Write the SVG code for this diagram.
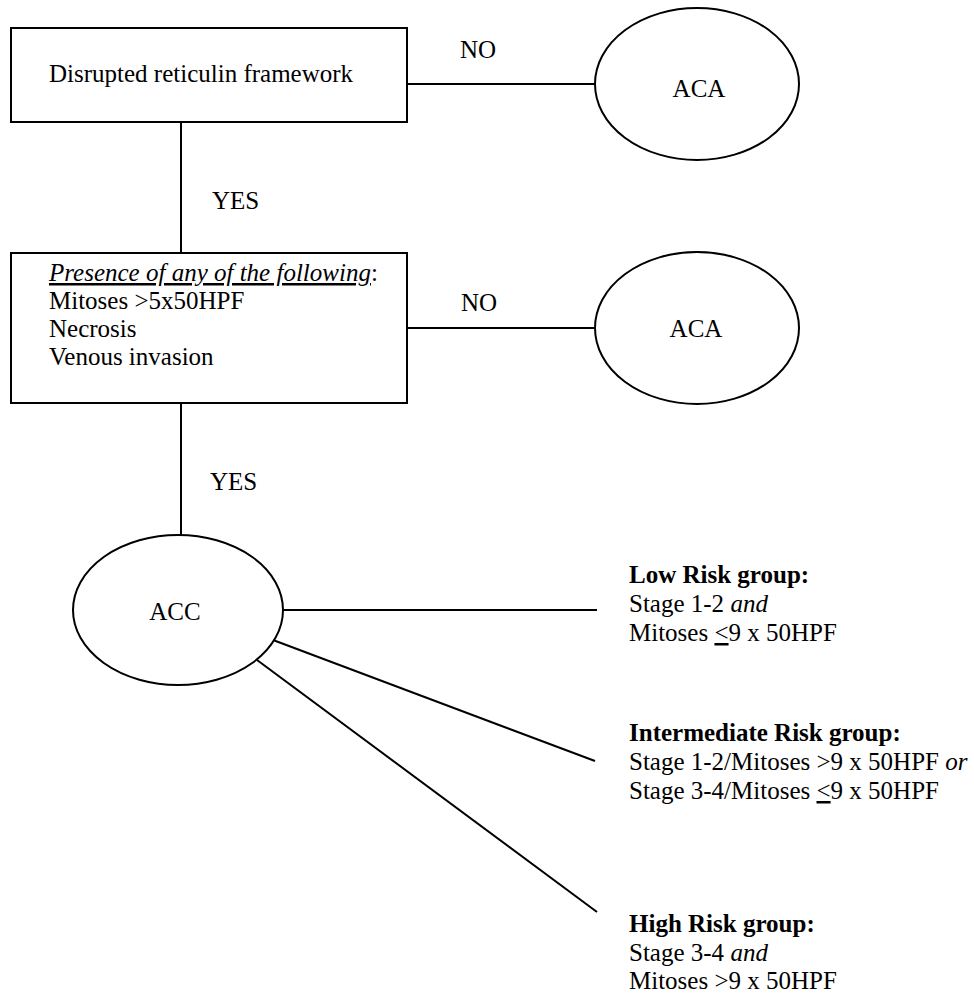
<svg xmlns="http://www.w3.org/2000/svg" width="974" height="996" viewBox="0 0 974 996">
<style>
.s{fill:none;stroke:#000;stroke-width:2}
.n{fill:#fff;stroke:#000;stroke-width:2}
text{font-family:"Liberation Serif","Times New Roman",serif;font-size:25px;fill:#000}
.c{text-anchor:middle}
.b{font-weight:bold}
.i{font-style:italic}
.u{text-decoration:underline}
</style>
<rect width="974" height="996" fill="#fff"/>
<g id="connectors">
<line class="s" x1="407" y1="84" x2="595" y2="84"/>
<line class="s" x1="181" y1="122" x2="181" y2="253"/>
<line class="s" x1="407" y1="328" x2="595" y2="328"/>
<line class="s" x1="181" y1="403" x2="181" y2="535"/>
<line class="s" x1="283" y1="610" x2="597" y2="610"/>
<line class="s" x1="273" y1="640" x2="595" y2="761"/>
<line class="s" x1="257" y1="660" x2="597" y2="912"/>
<text x="460" y="58">NO</text>
<text x="212" y="209">YES</text>
<text x="461" y="311">NO</text>
<text x="210" y="490">YES</text>
</g>
<g id="box1">
<rect class="n" x="11" y="28" width="396" height="94"/>
<text x="49" y="82">Disrupted reticulin framework</text>
</g>
<g id="box2">
<rect class="n" x="11" y="253" width="396" height="150"/>
<text x="49" y="281"><tspan class="i u">Presence of any of the following</tspan>:</text>
<text x="49" y="309">Mitoses &gt;5x50HPF</text>
<text x="49" y="337">Necrosis</text>
<text x="49" y="365">Venous invasion</text>
</g>
<g id="aca1">
<ellipse class="n" cx="697" cy="84" rx="102" ry="76"/>
<text class="c" x="699" y="97">ACA</text>
</g>
<g id="aca2">
<ellipse class="n" cx="697" cy="328" rx="102" ry="76"/>
<text class="c" x="696" y="337">ACA</text>
</g>
<g id="acc">
<ellipse class="n" cx="178" cy="610" rx="105" ry="75"/>
<text class="c" x="175" y="620">ACC</text>
</g>
<g id="low">
<text x="629" y="583" class="b">Low Risk group:</text>
<text x="629" y="612">Stage 1-2 <tspan class="i">and</tspan></text>
<text x="629" y="641">Mitoses <tspan class="u">&lt;</tspan>9 x 50HPF</text>
</g>
<g id="intermediate">
<text x="629" y="741" class="b">Intermediate Risk group:</text>
<text x="629" y="770">Stage 1-2/Mitoses &gt;9 x 50HPF <tspan class="i">or</tspan></text>
<text x="629" y="799">Stage 3-4/Mitoses <tspan class="u">&lt;</tspan>9 x 50HPF</text>
</g>
<g id="high">
<text x="629" y="932" class="b">High Risk group:</text>
<text x="629" y="961">Stage 3-4 <tspan class="i">and</tspan></text>
<text x="629" y="989">Mitoses &gt;9 x 50HPF</text>
</g>
</svg>
